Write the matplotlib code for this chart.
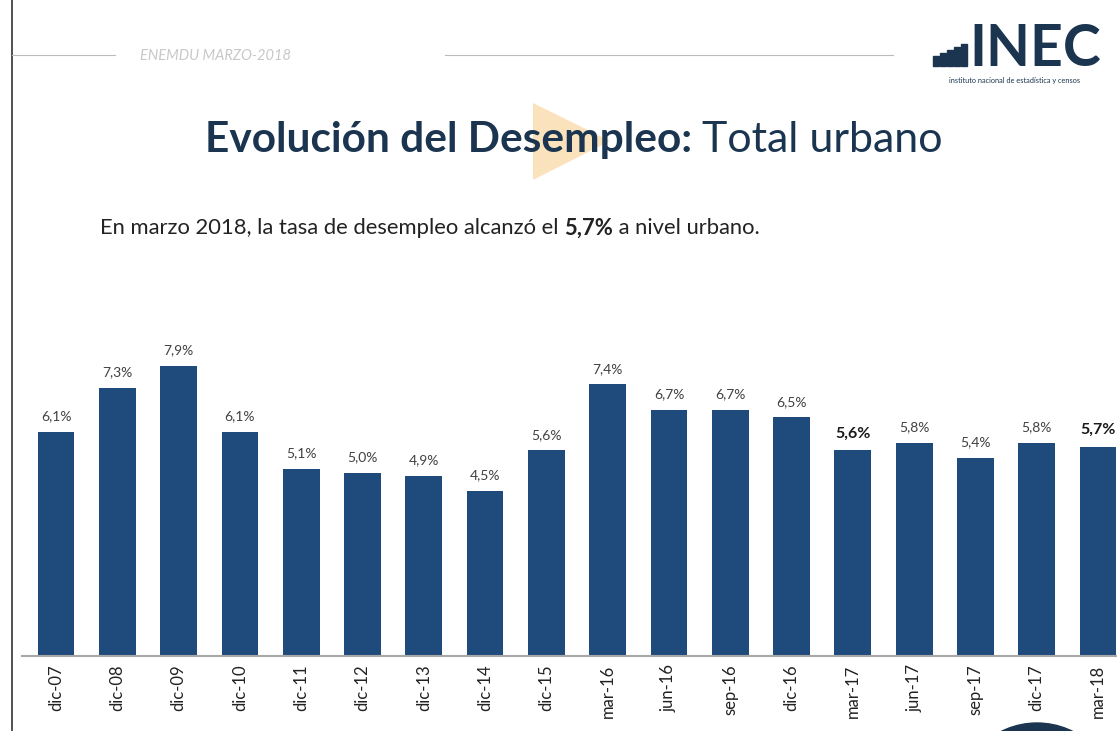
import matplotlib.pyplot as plt
from matplotlib.patches import Rectangle, Polygon, Ellipse
from matplotlib.lines import Line2D

periods = ["dic-07", "dic-08", "dic-09", "dic-10", "dic-11", "dic-12", "dic-13",
           "dic-14", "dic-15", "mar-16", "jun-16", "sep-16", "dic-16", "mar-17",
           "jun-17", "sep-17", "dic-17", "mar-18"]
rates = [6.1, 7.3, 7.9, 6.1, 5.1, 5.0, 4.9, 4.5, 5.6, 7.4, 6.7, 6.7, 6.5, 5.6,
         5.8, 5.4, 5.8, 5.7]
highlight = ["mar-17", "mar-18"]

W, H = 1117, 731
NAVY = "#1f4a7c"
DARK = "#1b3550"


def fx(x):
    return x / W


def fy(y):
    return 1 - y / H


fig = plt.figure(figsize=(W / 100, H / 100), dpi=100)
fig.patch.set_facecolor("white")

# bar chart area
ax = fig.add_axes([fx(22), fy(656), 1 - fx(22), fy(330) - fy(656)])
x = list(range(len(periods)))
ax.bar(x, rates, width=0.6, color=NAVY, zorder=2)
ax.set_xlim(-0.555, 17.31)
ax.set_ylim(0, 326 / 36.7)
ax.set_xticks(x)
ax.set_xticklabels(periods, rotation=90, fontsize=12, family="Lato", color="#222222")
ax.tick_params(axis="x", length=0, pad=6)
ax.set_yticks([])
for s in ["top", "right", "left"]:
    ax.spines[s].set_visible(False)
ax.spines["bottom"].set_color("#a8a8a8")
ax.spines["bottom"].set_linewidth(1.5)
ax.patch.set_alpha(0)

for xi, p, v in zip(x, periods, rates):
    lbl = f"{v:.1f}%".replace(".", ",")
    if p in highlight:
        ax.annotate(lbl, (xi, v), xytext=(0, 7), textcoords="offset points",
                    ha="center", va="bottom", fontsize=11.5, fontweight="bold",
                    family="Lato", color="#1a1a1a")
    else:
        ax.annotate(lbl, (xi, v), xytext=(0, 7), textcoords="offset points",
                    ha="center", va="bottom", fontsize=10, family="Lato",
                    color="#404040")

# left border line
fig.add_artist(Line2D([fx(12), fx(12)], [0, 1], color="#333333", lw=1.2))

# header lines and tag
fig.add_artist(Line2D([fx(12), fx(115)], [fy(55), fy(55)], color="#bbbbbb", lw=0.8))
fig.add_artist(Line2D([fx(445), fx(893)], [fy(55), fy(55)], color="#bbbbbb", lw=0.8))
fig.text(fx(140), fy(56), "ENEMDU MARZO-2018", fontsize=10.5, style="italic",
         color="#c8c8c8", va="center", ha="left", family="Lato")

# logo
steps = [(933, 10), (940, 13), (947, 16), (954, 19), (961, 22)]
for sx, sh in steps:
    fig.add_artist(Rectangle((fx(sx), fy(66)), fx(5.5), sh / H, color=DARK,
                             transform=fig.transFigure))
fig.text(fx(969), fy(66), "INEC", fontsize=41, fontweight="bold", color=DARK,
         va="baseline", ha="left", family="Lato")
fig.text(fx(1015), fy(81), "instituto nacional de estadística y censos", fontsize=5.3,
         color=DARK, va="center", ha="center", family="Lato")

# play icon behind title
tri = Polygon([(fx(533), fy(103)), (fx(533), fy(180)), (fx(610), fy(141))],
              closed=True, facecolor="#f7c77a", edgecolor="none", alpha=0.5,
              transform=fig.transFigure, zorder=0, joinstyle="round")
fig.add_artist(tri)

# title: bold part followed by regular part
fig.canvas.draw()
r = fig.canvas.get_renderer()
t1 = fig.text(fx(205), fy(140), "Evolución del Desempleo:", fontsize=30.5,
              fontweight="bold", color=DARK, va="center", ha="left", family="Lato")
bb = t1.get_window_extent(r)
fig.text(bb.x1 / W + fx(10), fy(140), "Total urbano", fontsize=31,
         color=DARK, va="center", ha="left", family="Lato")

# subtitle sentence with bold value
parts = [("En marzo 2018, la tasa de desempleo alcanzó el ", "normal"),
         ("5,7%", "bold"),
         (" a nivel urbano.", "normal")]
cx = fx(100)
for txt, wgt in parts:
    t = fig.text(cx, fy(228), txt, fontsize=15.8, fontweight=wgt, color="#222222",
                 va="center", ha="left", family="Lato")
    cx = t.get_window_extent(r).x1 / W

# dark circle at the lower right
fig.add_artist(Ellipse((fx(1037), fy(803)), 160 / W, 160 / H, color=DARK,
                       transform=fig.transFigure))

fig.savefig("out.png", dpi=100)
